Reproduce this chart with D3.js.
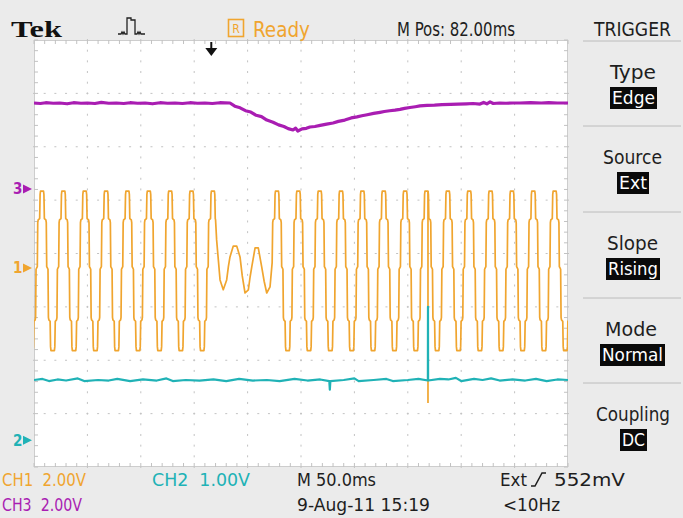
<!DOCTYPE html>
<html><head><meta charset="utf-8">
<script src="https://cdn.jsdelivr.net/npm/d3@7"></script>
<style>
html,body{margin:0;padding:0;background:#ebebeb;}
svg{display:block;}
text{font-family:"DejaVu Sans Condensed","Liberation Sans Narrow",sans-serif;}
</style></head><body>
<svg id="scope" width="683" height="518"></svg>
<script>
// ---- acquisition settings ----
const timeDivs = 10, vertDivs = 8, msPerDiv = 50;
const chVoltsPerDiv = [2, 1, 2];          // CH1, CH2, CH3
const chGroundDiv = [-0.27, -3.5, 1.21];  // ground marker position, divisions from centre
const triggerMs = 166;

// ---- CH1: stepped 50 Hz waveform, one period (phase 0..1, volts) ----
const ch1PeriodMs = 20;
const ch1FirstRiseMs = 2.5;
const ch1Shape = [
  [0.00, 0], [0.03, 0.05], [0.05, 1.7], [0.07, 1.8], [0.14, 1.85], [0.16, 2.75], [0.18, 2.88],
  [0.32, 2.88], [0.34, 2.75], [0.36, 1.85], [0.43, 1.8], [0.45, 1.7], [0.47, 0.05],
  [0.50, 0], [0.53, -0.05], [0.55, -1.85], [0.57, -1.95], [0.63, -2.0], [0.65, -2.95], [0.67, -3.1],
  [0.83, -3.1], [0.85, -2.95], [0.87, -2.0], [0.93, -1.95], [0.95, -1.85], [0.97, -0.05], [1.00, 0]
];
// sag where the output collapses to a small ripple (ms, volts)
const ch1Dropout = [
  [170.0, 1.8], [171.0, 1.05], [172.6, 0.3], [174.2, -0.45], [177.2, -0.82], [180.4, -0.45],
  [182.0, 0.05], [183.5, 0.41], [186.6, 0.82], [189.8, 0.82], [192.9, 0.41], [195.0, -0.3],
  [197.6, -0.94], [200.7, -0.82], [202.3, -0.35], [203.9, 0.04], [207.0, 0.75], [210.0, 0.75],
  [213.2, 0.04], [215.5, -0.5], [217.9, -0.94], [221.0, -0.71], [223.0, 0.2]
];
const ch1Glitch = [[368.9, 2.88], [368.9, -5.06]];

// ---- CH2 (ms, volts) ----
const ch2Points = [
  [0,1.13],[8,1.15],[14,1.11],[22,1.14],[30,1.12],[41,1.16],[47,1.11],[60,1.13],
  [70,1.12],[78,1.15],[90,1.11],[102,1.14],[115,1.12],[124,1.16],[130,1.11],
  [142,1.13],[155,1.12],[168,1.14],[180,1.11],[192,1.15],[205,1.12],[218,1.13],
  [230,1.11],[244,1.15],[256,1.12],[268,1.14],[276.5,1.11],[277,0.95],[277.5,1.11],
  [290,1.13],[300,1.16],[304,1.11],[318,1.13],[330,1.15],[336,1.11],[350,1.13],
  [360,1.15],[368.8,1.12],[368.9,2.5],[369.0,1.12],[380,1.15],[388,1.14],[395,1.17],
  [400,1.11],[412,1.15],[420,1.13],[428,1.16],[436,1.12],[448,1.14],[460,1.12],
  [470,1.15],[480,1.11],[490,1.14],[500,1.13]
];

// ---- CH3 (ms, volts) ----
const ch3Points = [
  [0,3.22],[6,3.2],[11,3.23],[18,3.21],[24,3.22],[31,3.19],[37,3.23],[44,3.21],[50,3.22],
  [57,3.2],[63,3.24],[70,3.21],[77,3.22],[84,3.2],[90,3.23],[97,3.21],[104,3.22],[111,3.19],
  [118,3.23],[125,3.21],[132,3.22],[139,3.2],[146,3.23],[153,3.21],[160,3.22],[167,3.2],
  [174,3.23],[183.5,3.22],[188,3.1],[193,3.04],[198,2.93],[203,2.88],[208,2.76],[213,2.71],
  [218,2.58],[223.8,2.5],[229,2.4],[234,2.34],[238,2.26],[242.5,2.21],[245,2.28],[247,2.17],
  [251,2.25],[255,2.27],[258.4,2.32],[263,2.34],[268,2.38],[274,2.43],[280,2.47],[285,2.53],
  [291,2.58],[297,2.66],[302.4,2.7],[307,2.74],[312,2.78],[318,2.83],[324,2.87],[328,2.9],
  [333,2.93],[338,2.95],[342.7,2.98],[347,3.02],[352,3.05],[357,3.08],[361.4,3.11],[368,3.13],
  [375,3.14],[382,3.16],[390,3.17],[397,3.18],[405,3.19],[411,3.2],[417.6,3.18],[421,3.24],
  [424,3.19],[427,3.26],[430,3.2],[436,3.22],[442,3.21],[448.5,3.22],[455,3.22],[465,3.23],
  [475,3.22],[482,3.23],[490,3.22],[500,3.22]
];

// ---- panel text ----
const headerTexts = { brand: "Tek", status: "Ready", mpos: "M Pos: 82.00ms", menu: "TRIGGER" };
const menuItems = [
  ["Type", "Edge"], ["Source", "Ext"], ["Slope", "Rising"], ["Mode", "Normal"], ["Coupling", "DC"]
];
const footerRow1 = ["CH1  2.00V", "CH2  1.00V", "M 50.0ms", "Ext", "552mV"];
const footerRow2 = ["CH3  2.00V", "9-Aug-11 15:19", "<10Hz"];
const groundLabels = ["1", "2", "3"];

// ---- layout ----
const W = 683, H = 518;
const plot = { left: 34, right: 568, top: 40, bottom: 467 };
const colors = { ch1: "#f0a52f", ch2: "#20b2b6", ch3: "#a91db2", grid: "#c2c2c2", panel: "#ebebeb", ink: "#1e1e1e" };

const svg = d3.select("#scope");
svg.append("rect").attr("width", W).attr("height", H).attr("fill", colors.panel);
svg.append("rect").attr("x", plot.left).attr("y", plot.top)
  .attr("width", plot.right - plot.left).attr("height", plot.bottom - plot.top).attr("fill", "#fff");

const x = d3.scaleLinear().domain([0, timeDivs * msPerDiv]).range([plot.left, plot.right]);
const divScale = d3.scaleLinear().domain([-vertDivs / 2, vertDivs / 2]).range([plot.bottom, plot.top]);
const chY = ch => v => divScale(v / chVoltsPerDiv[ch] + chGroundDiv[ch]);

// ---- graticule ----
const g = svg.append("g");
const minorT = d3.range(0, timeDivs * 5 + 1).map(i => i * msPerDiv / 5);
const minorV = d3.range(0, vertDivs * 5 + 1).map(i => -vertDivs / 2 + i / 5);
for (let i = 1; i < timeDivs; i++) {
  const xx = x(i * msPerDiv);
  minorV.forEach(v => {
    g.append("line").attr("x1", xx).attr("x2", xx).attr("y1", divScale(v) - 1).attr("y2", divScale(v) + 1)
      .attr("stroke", colors.grid).attr("stroke-width", 1);
  });
}
for (let j = 1; j < vertDivs; j++) {
  const yy = divScale(-vertDivs / 2 + j);
  minorT.forEach(t => {
    g.append("line").attr("x1", x(t) - 1).attr("x2", x(t) + 1).attr("y1", yy).attr("y2", yy)
      .attr("stroke", colors.grid).attr("stroke-width", 1);
  });
}
g.append("rect").attr("x", plot.left + 0.5).attr("y", plot.top + 0.5)
  .attr("width", plot.right - plot.left - 1).attr("height", plot.bottom - plot.top - 1)
  .attr("fill", "none").attr("stroke", "#cdcdcd");
minorT.forEach(t => {
  g.append("line").attr("x1", x(t)).attr("x2", x(t)).attr("y1", plot.top).attr("y2", plot.top + 4).attr("stroke", colors.grid);
  g.append("line").attr("x1", x(t)).attr("x2", x(t)).attr("y1", plot.bottom - 4).attr("y2", plot.bottom).attr("stroke", colors.grid);
});
minorV.forEach(v => {
  g.append("line").attr("x1", plot.left).attr("x2", plot.left + 4).attr("y1", divScale(v)).attr("y2", divScale(v)).attr("stroke", colors.grid);
  g.append("line").attr("x1", plot.right - 4).attr("x2", plot.right).attr("y1", divScale(v)).attr("y2", divScale(v)).attr("stroke", colors.grid);
});

// ---- traces ----
svg.append("clipPath").attr("id", "plotClip").append("rect")
  .attr("x", plot.left).attr("y", plot.top).attr("width", plot.right - plot.left).attr("height", plot.bottom - plot.top);
const traces = svg.append("g").attr("clip-path", "url(#plotClip)");

// CH1: repeat the period shape across the record, replacing the sag window
const dropStart = ch1Dropout[0][0], dropEnd = ch1Dropout[ch1Dropout.length - 1][0] + 0.4;
let ch1Points = [];
for (let start = ch1FirstRiseMs - ch1PeriodMs; start <= timeDivs * msPerDiv; start += ch1PeriodMs) {
  ch1Shape.forEach(([ph, v]) => {
    const t = start + ph * ch1PeriodMs;
    if (t >= dropStart && t <= dropEnd) return;
    ch1Points.push([t, v]);
  });
}
ch1Points = ch1Points.concat(ch1Dropout).sort((a, b) => a[0] - b[0]);

const lineFor = ch => d3.line().x(d => x(d[0])).y(d => chY(ch)(d[1]));

traces.append("path").datum(ch3Points).attr("d", lineFor(2))
  .attr("fill", "none").attr("stroke", colors.ch3).attr("stroke-width", 3.2).attr("stroke-linejoin", "round");
traces.append("path").datum(ch1Points).attr("d", lineFor(0))
  .attr("fill", "none").attr("stroke", colors.ch1).attr("stroke-width", 1.7).attr("stroke-linejoin", "round");
traces.append("path").datum(ch1Glitch).attr("d", lineFor(0))
  .attr("fill", "none").attr("stroke", colors.ch1).attr("stroke-width", 1.7);
traces.append("path").datum(ch2Points).attr("d", lineFor(1))
  .attr("fill", "none").attr("stroke", colors.ch2).attr("stroke-width", 2.2).attr("stroke-linejoin", "round");

// ---- ground markers ----
const gndColors = [colors.ch1, colors.ch2, colors.ch3];
[0, 1, 2].forEach(ch => {
  const yy = divScale(chGroundDiv[ch]);
  svg.append("text").attr("x", 13).attr("y", yy + 5.5).attr("font-size", 15).attr("font-weight", "bold")
    .attr("fill", gndColors[ch]).text(groundLabels[ch]);
  svg.append("path").attr("d", `M23,${yy - 4.5} L32,${yy} L23,${yy + 4.5} Z`).attr("fill", gndColors[ch]);
});

// ---- trigger position arrow ----
const tx = x(triggerMs);
svg.append("line").attr("x1", tx).attr("x2", tx).attr("y1", plot.top + 2).attr("y2", plot.top + 10)
  .attr("stroke", "#111").attr("stroke-width", 2);
svg.append("path").attr("d", `M${tx - 6},${plot.top + 8} L${tx + 6},${plot.top + 8} L${tx},${plot.top + 16} Z`).attr("fill", "#111");

// ---- header ----
const fitText = (sel, x0, x1) => sel.attr("x", x0).attr("textLength", x1 - x0).attr("lengthAdjust", "spacingAndGlyphs");
svg.append("text").attr("x", 11).attr("y", 37).attr("font-size", 24).attr("font-weight", "bold")
  .style("font-family", "'Liberation Serif','DejaVu Serif',serif").attr("fill", "#111")
  .attr("textLength", 51).attr("lengthAdjust", "spacingAndGlyphs").text(headerTexts.brand);
svg.append("path")
  .attr("d", "M118,34 h3 l1,-2 l1,2 l1,-2 l1,2 h2 V18 h4 v2 h4 V34 h2 l1,-2 l1,2 l1,-2 l1,2 h4")
  .attr("fill", "none").attr("stroke", "#222").attr("stroke-width", 1.3);
svg.append("rect").attr("x", 228.5).attr("y", 19.5).attr("width", 15).attr("height", 17)
  .attr("fill", "none").attr("stroke", colors.ch1).attr("stroke-width", 1.6);
svg.append("text").attr("x", 236).attr("y", 33).attr("text-anchor", "middle").attr("font-size", 12)
  .attr("fill", colors.ch1).text("R");
fitText(svg.append("text").attr("y", 37).attr("font-size", 21).attr("fill", colors.ch1), 253, 310).text(headerTexts.status);
fitText(svg.append("text").attr("y", 36).attr("font-size", 19).attr("fill", colors.ink), 397, 515).text(headerTexts.mpos);
fitText(svg.append("text").attr("y", 36).attr("font-size", 19).attr("fill", colors.ink), 594, 671).text(headerTexts.menu);

// ---- trigger menu ----
const menuX = 633;
const sepY = [41, 126, 212, 298, 383];
const labelSpan = [[610, 656], [603, 662], [607, 658], [605, 657], [596, 670]];
const valueSpan = [[612, 655], [619, 647], [608, 658], [602, 663], [622, 645]];
sepY.forEach(y => svg.append("line").attr("x1", 583).attr("x2", 681).attr("y1", y).attr("y2", y)
  .attr("stroke", "#bcbcbc").attr("stroke-width", 1));
menuItems.forEach(([label, value], i) => {
  const base = sepY[i];
  fitText(svg.append("text").attr("y", base + 38).attr("font-size", 19).attr("fill", colors.ink),
    labelSpan[i][0], labelSpan[i][1]).text(label);
  svg.append("rect").attr("x", valueSpan[i][0] - 2).attr("y", base + 46)
    .attr("width", valueSpan[i][1] - valueSpan[i][0] + 4).attr("height", 22).attr("fill", "#0a0a0a");
  fitText(svg.append("text").attr("y", base + 63).attr("font-size", 18).attr("fill", "#fff"),
    valueSpan[i][0], valueSpan[i][1]).text(value);
});

// ---- footer ----
const f1y = 486, f2y = 511;
const foot = (txt, x0, x1, y, color) =>
  fitText(svg.append("text").attr("y", y).attr("font-size", 18).attr("fill", color).attr("xml:space", "preserve"), x0, x1).text(txt);
foot(footerRow1[0], 2, 86, f1y, colors.ch1);
foot(footerRow1[1], 152, 250, f1y, colors.ch2);
foot(footerRow1[2], 297, 376, f1y, colors.ink);
foot(footerRow1[3], 500, 527, f1y, colors.ink);
svg.append("path").attr("d", `M531,${f1y} l4,0 l7,-13 l4,0`).attr("fill", "none").attr("stroke", colors.ink).attr("stroke-width", 1.5);
foot(footerRow1[4], 554, 625, f1y, colors.ink);
foot(footerRow2[0], 2, 82, f2y, colors.ch3);
foot(footerRow2[1], 297, 430, f2y, colors.ink);
foot(footerRow2[2], 503, 560, f2y, colors.ink);
</script>
</body></html>
